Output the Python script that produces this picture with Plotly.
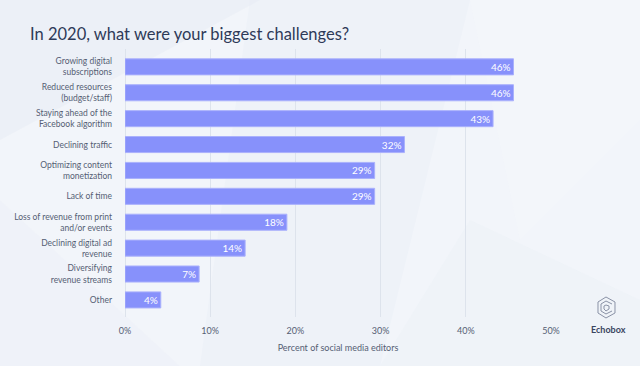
import plotly.graph_objects as go

categories = [
    "Growing digital<br>subscriptions",
    "Reduced resources<br>(budget/staff)",
    "Staying ahead of the<br>Facebook algorithm",
    "Declining traffic",
    "Optimizing content<br>monetization",
    "Lack of time",
    "Loss of revenue from print<br>and/or events",
    "Declining digital ad<br>revenue",
    "Diversifying<br>revenue streams",
    "Other",
]
values = [45.6, 45.6, 43.2, 32.8, 29.3, 29.3, 19.0, 14.1, 8.7, 4.2]
value_labels = ["46%", "46%", "43%", "32%", "29%", "29%", "18%", "14%", "7%", "4%"]
x_ticks = [0, 10, 20, 30, 40, 50]
x_tick_labels = ["0%", "10%", "20%", "30%", "40%", "50%"]

W, H = 640, 366
L, R, T, B = 125, 551, 49, 317


def px(x):
    return (x - L) / (R - L)


def py(y):
    return (B - y) / (B - T)


fig = go.Figure()
fig.add_trace(go.Bar(
    x=values, y=categories, orientation="h",
    marker=dict(color="#8791fb", line=dict(color="#aab1fc", width=1)),
    width=0.62,
    text=value_labels, textposition="inside", insidetextanchor="end",
    constraintext="none",
    textfont=dict(color="white", size=10, family="Lato"),
    hoverinfo="skip",
))

shapes = []
# faint background facets
facets = [
    ([(0, 0), (260, 0), (0, 140)], "rgba(226,233,242,0.35)"),
    ([(250, 0), (470, 0), (380, 366), (200, 366)], "rgba(228,235,244,0.3)"),
    ([(470, 0), (640, 0), (640, 120), (520, 240)], "rgba(244,247,251,0.4)"),
    ([(0, 200), (180, 366), (0, 366)], "rgba(234,239,246,0.35)"),
    ([(380, 366), (470, 220), (640, 300), (640, 366)], "rgba(232,238,246,0.3)"),
]
for pts, col in facets:
    d = "M " + " L ".join(f"{px(a):.4f},{py(b):.4f}" for a, b in pts) + " Z"
    shapes.append(dict(type="path", path=d, xref="paper", yref="paper",
                       fillcolor=col, line=dict(width=0), layer="below"))

# Echobox logo (approximate outline)
logo_paths = [
    [(598, 302), (606, 297), (615, 302), (615, 313), (606, 318), (598, 313), (598, 302)],
    [(601, 304), (606, 301), (612, 304)],
    [(601, 304), (601, 311), (606, 314), (612, 311)],
    [(604, 306), (606, 305), (609, 306), (609, 309), (606, 311), (604, 309), (604, 306)],
]
for pts in logo_paths:
    d = "M " + " L ".join(f"{px(a):.4f},{py(b):.4f}" for a, b in pts)
    shapes.append(dict(type="path", path=d, xref="paper", yref="paper",
                       line=dict(color="#8a92a6", width=1)))

fig.update_layout(
    width=W, height=H,
    margin=dict(l=L, r=W - R, t=T, b=H - B),
    paper_bgcolor="#f2f5fa",
    plot_bgcolor="rgba(0,0,0,0)",
    showlegend=False,
    uniformtext=dict(minsize=10, mode="show"),
    font=dict(family="Lato", color="#555e74"),
    title=dict(text="In 2020, what were your biggest challenges?",
               x=30 / W, xanchor="left", y=1 - 34 / H, yanchor="middle",
               font=dict(size=16.5, color="#2e3a58", family="Lato")),
    xaxis=dict(range=[0, 50], tickvals=x_ticks, ticktext=x_tick_labels,
               showgrid=True, gridcolor="#dde3ec", gridwidth=1,
               zeroline=True, zerolinecolor="#dde3ec", zerolinewidth=1,
               showline=False, ticks="", ticklabelstandoff=7,
               tickfont=dict(size=9, color="#555e74"),
               title=dict(text="Percent of social media editors",
                          font=dict(size=9, color="#555e74"), standoff=9),
               fixedrange=True),
    yaxis=dict(range=[9.66, -0.69], showgrid=False, zeroline=False,
               showline=False, ticks="", ticklabelstandoff=12,
               tickfont=dict(size=8.5, color="#555e74"), fixedrange=True),
    shapes=shapes,
    annotations=[dict(text="<b>Echobox</b>", x=px(608), y=py(329), xref="paper", yref="paper",
                      showarrow=False, xanchor="center", yanchor="middle",
                      font=dict(size=9, color="#3a4560", family="Lato"))],
)

fig.write_html("out.html", config={"displayModeBar": False},
               post_script="document.body.style.margin='0';")
